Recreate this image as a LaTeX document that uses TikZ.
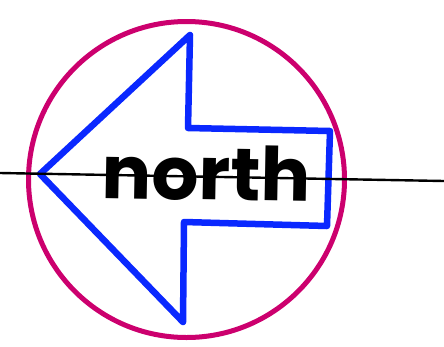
\documentclass[tikz,border=0pt]{standalone}
\usepackage{fontspec}
\newfontfamily\northfont{Poppins}
\definecolor{ringred}{RGB}{204,0,110}
\definecolor{arrowblue}{RGB}{10,40,255}

\begin{document}
\begin{tikzpicture}[x=1pt, y=-1pt, line join=round]
    \useasboundingbox (0,0) rectangle (444,346);

    % Circle around the arrow
    \draw[ringred, line width=5pt] (186.5,179.5) circle (158);

    % Arrow outline
    \draw[arrowblue, line width=6.5pt]
        (40,174) -- (190,35) -- (188,128) -- (330,131)
        -- (327,226) -- (184,222) -- (183,322) -- cycle;

    % Label
    \node[anchor=base, rotate=-1, inner sep=0pt, font=\northfont\bfseries\fontsize{74}{76}\selectfont] (label) at (206,200) {north};

    % Axis line through the tip
    \coordinate (west) at (0,173);
    \coordinate (east) at (444,181);
    \draw[black, line width=2.4pt] (west) -- (east);
\end{tikzpicture}
\end{document}
